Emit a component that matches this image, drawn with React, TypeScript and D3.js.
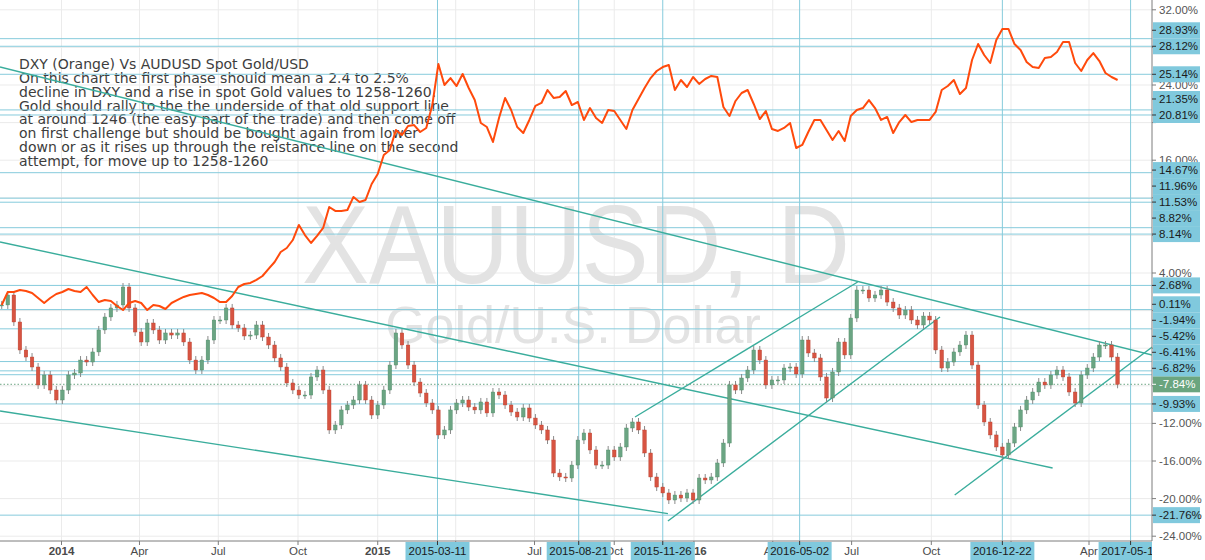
import React from "react";
import * as d3 from "d3";

// ---------- data ----------
const goldStart = "2013-10-24"; // first weekly bar, one bar every 7 days
const goldClose = [
  0.6, 1.66, -1.21, -4.19, -4.94, -6.0, -7.91, -6.85, -8.45, -9.51,
  -8.45, -6.85, -6.64, -5.26, -5.47, -4.4, -2.06, -0.68, 0.28, 0.6,
  2.51, 0.28, -2.28, -3.34, -1.32, -2.06, -3.13, -2.38, -2.6, -2.38,
  -3.34, -5.26, -6.32, -5.26, -3.13, -1.0, -1.0, 0.28, -1.53, -1.85,
  -2.7, -2.6, -1.53, -2.81, -3.66, -5.04, -6.0, -7.7, -8.45, -8.98,
  -8.98, -7.06, -6.32, -8.45, -12.7, -12.17, -10.57, -10.04, -9.51, -7.91,
  -9.51, -11.11, -10.04, -8.45, -5.79, -2.38, -3.66, -5.79, -7.6, -8.77,
  -9.83, -10.57, -13.23, -12.7, -10.57, -9.83, -9.51, -10.26, -10.57, -9.72,
  -10.89, -8.66, -8.98, -10.04, -10.79, -11.32, -10.36, -11.43, -12.17, -12.7,
  -13.77, -17.28, -17.7, -17.81, -16.43, -13.77, -13.02, -14.83, -16.43, -16.43,
  -14.83, -15.57, -14.51, -12.49, -11.85, -12.7, -15.15, -17.7, -18.77, -19.4,
  -20.15, -19.62, -19.94, -19.4, -20.15, -17.81, -18.02, -17.7, -16.21, -14.09,
  -7.91, -8.45, -7.17, -6.32, -4.19, -5.26, -7.91, -7.38, -7.38, -6.11,
  -6.0, -6.74, -3.13, -4.51, -5.04, -7.06, -9.3, -6.53, -3.34, -4.72,
  -0.79, 2.19, 2.19, 1.34, 1.66, 2.19, 0.91, 0.28, -0.47, 0.06,
  -1.0, -1.53, -0.58, -1.0, -4.19, -6.11, -5.47, -4.4, -3.66, -2.6,
  -5.79, -10.04, -11.85, -13.23, -14.51, -15.36, -14.09, -12.38, -10.57, -9.51,
  -8.66, -7.6, -7.91, -6.85, -6.32, -7.06, -8.66, -9.83, -6.85, -6.11,
  -4.94, -3.66, -3.66, -4.94, -7.84,
];
const dxyPct = [
  0.6, 1.98, 1.98, 2.19, 2.09, 1.87, 1.34, 0.81, 1.34, 1.77,
  1.98, 2.3, 2.09, 1.98, 2.51, 1.66, 0.91, 1.13, 1.02, 0.49,
  0.06, 0.81, 1.02, 0.81, 0.06, 0.6, 0.49, 0.17, 0.81, 1.13,
  1.45, 1.66, 1.77, 1.87, 1.66, 1.34, 0.91, 0.91, 1.55, 2.51,
  2.83, 2.94, 3.26, 3.68, 4.43, 5.17, 6.23, 6.66, 7.51, 9.11,
  8.04, 7.19, 7.94, 8.79, 11.02, 10.6, 10.6, 10.7, 12.09, 11.55,
  11.77, 13.47, 14.53, 16.55, 17.09, 19.21, 18.68, 19.64, 19.74, 19.0,
  19.43, 21.87, 26.23, 24.0, 24.74, 23.89, 25.17, 23.68, 22.4, 19.96,
  19.53, 17.94, 20.49, 22.62, 21.34, 19.53, 18.89, 20.28, 21.77, 22.09,
  23.47, 22.62, 22.72, 23.36, 21.87, 22.19, 20.28, 21.55, 20.49, 19.96,
  21.34, 21.23, 20.28, 19.32, 21.34, 22.51, 23.68, 24.74, 25.49, 25.91,
  26.13, 23.47, 24.53, 23.79, 24.85, 24.11, 24.64, 24.96, 24.85, 21.66,
  20.7, 22.3, 23.15, 23.47, 21.98, 20.38, 21.23, 19.32, 19.11, 19.43,
  19.96, 17.3, 17.62, 19.0, 20.28, 20.28, 19.21, 18.15, 19.11, 18.04,
  20.7, 21.34, 21.55, 22.4, 21.55, 20.28, 20.6, 18.89, 20.06, 20.81,
  20.06, 20.28, 20.28, 20.28, 21.13, 23.47, 23.89, 24.53, 23.04, 23.68,
  26.66, 28.36, 27.19, 26.34, 28.79, 29.96, 29.96, 28.36, 27.72, 26.45,
  25.91, 25.81, 26.87, 26.98, 27.51, 28.57, 28.57, 26.34, 25.49, 26.66,
  27.4, 26.55, 25.28, 24.85, 24.53,
];

const levelValues = [28.93, 28.12, 25.14, 21.35, 20.81, 14.67, 11.96, 11.53, 8.82, 8.14, 2.68, 0.11, -1.94, -5.42, -6.41, -6.82, -9.93, -21.76];
const lastValue = -7.84;
const markerDates = ["2015-03-11", "2015-08-21", "2015-11-26", "2016-05-02", "2016-12-22", "2017-05-19"];
const pctTicks = [32, 28, 24, 20, 16, 12, 8, 4, 0, -4, -8, -12, -16, -20, -24];
const monthTickDates = ["2014-01-01", "2014-04-01", "2014-07-01", "2014-10-01", "2015-01-01", "2015-04-01", "2015-07-01", "2015-10-01", "2016-01-01", "2016-04-01", "2016-07-01", "2016-10-01", "2017-01-01", "2017-04-01"];
const monthTickLabels = ["2014", "Apr", "Jul", "Oct", "2015", "Apr", "Jul", "Oct", "2016", "Apr", "Jul", "Oct", "2017", "Apr"];

const trendStartDates = ["2013-10-22", "2013-10-22", "2013-10-22", "2015-10-25", "2015-12-02", "2016-10-28"];
const trendStartPct = [25.91, 7.3, -10.68, -11.32, -22.38, -19.62];
const trendEndDates = ["2017-06-13", "2017-02-18", "2015-12-02", "2016-07-08", "2016-10-11", "2017-06-13"];
const trendEndPct = [-4.72, -16.74, -21.6, 3.04, -0.68, -3.87];

const noteLines = [
  "DXY (Orange) Vs AUDUSD Spot Gold/USD",
  "On this chart the first phase should mean a 2.4 to 2.5%",
  "decline in DXY and a rise in spot Gold values to 1258-1260.",
  "Gold should rally to the the underside of that old support line",
  "at around 1246 (the easy part of the trade) and then come off",
  "on first challenge but should be bought again from lower",
  "down or as it rises up through the reistance line on the second",
  "attempt, for move up to 1258-1260",
];

// ---------- layout ----------
const W = 1205;
const H = 560;
const PW = 1152; // plot right edge
const AXY = 541; // bottom axis line
const FONT = "'Liberation Sans', Arial, sans-serif";
const LINE_BLUE = "#86cbdc";
const TAG_BLUE = "#80c9dd";
const TEAL = "#3aad9c";
const UP = "#6ba583";
const DOWN = "#d75442";

const parse = (s: string) => new Date(s + "T00:00:00Z");

export default function App() {
  const x = d3.scaleUtc().domain([parse("2014-01-01"), parse("2017-04-01")]).range([61.5, 1089]);
  const y = d3.scaleLinear().domain([-24, 32]).range([536.2, 9.8]);

  const start = parse(goldStart);
  const dates = goldClose.map((_, i) => d3.utcDay.offset(start, 7 * i));

  const dxyLine = d3
    .line<number>()
    .x((_, i) => x(dates[i]))
    .y((d) => y(d))(dxyPct) as string;

  // right-side tags, stacked to avoid overlap (bottom-up)
  const allTags = [...levelValues.map((v) => ({ v, last: false })), { v: lastValue, last: true }].sort((a, b) => a.v - b.v);
  let prev = Infinity;
  const tagPos = allTags.map((t) => {
    const yy = Math.min(y(t.v), prev - 16);
    prev = yy;
    return { ...t, yy };
  });

  const fmt = (v: number) => v.toFixed(2) + "%";
  const visiblePct = pctTicks.filter((p) => tagPos.every((t) => Math.abs(t.yy - y(p)) >= 9));
  const markerX = markerDates.map((d) => x(parse(d)));
  const visibleMonths = monthTickDates
    .map((d, i) => ({ d, label: monthTickLabels[i], xx: x(parse(d)) }))
    .filter((m) => markerX.every((mx) => Math.abs(mx - m.xx) >= 22));

  return (
    <div style={{ position: "absolute", left: 0, top: 0 }}>
      <svg width={W} height={H} style={{ display: "block", background: "#fff" }} fontFamily={FONT}>
        <defs>
          <clipPath id="plot">
            <rect x={0} y={0} width={PW} height={AXY} />
          </clipPath>
          <clipPath id="bottom">
            <rect x={0} y={AXY} width={PW} height={H - AXY} />
          </clipPath>
        </defs>

        <g clipPath="url(#plot)">
          {/* grid */}
          {monthTickDates.map((d) => (
            <line key={"gv" + d} x1={x(parse(d))} x2={x(parse(d))} y1={0} y2={AXY} stroke="#ebebeb" />
          ))}
          {pctTicks.map((p) => (
            <line key={"gh" + p} x1={0} x2={PW} y1={y(p)} y2={y(p)} stroke="#ebebeb" />
          ))}

          {/* watermark */}
          <text x={576} y={283} textAnchor="middle" fontSize={112} fill="#e3e3e3" textLength={548} lengthAdjust="spacingAndGlyphs">
            XAUUSD, D
          </text>
          <text x={573} y={343} textAnchor="middle" fontSize={52} fill="#e3e3e3">
            Gold/U.S. Dollar
          </text>

          {/* note */}
          {noteLines.map((t, i) => (
            <text key={"n" + i} x={19} y={69 + i * 13.86} fontSize={14} fill="#3d3d3d" fontFamily="'DejaVu Sans', Verdana, sans-serif">
              {t}
            </text>
          ))}

          {/* horizontal level lines */}
          {levelValues.map((v) => (
            <line key={"lv" + v} x1={0} x2={PW} y1={y(v)} y2={y(v)} stroke={LINE_BLUE} strokeWidth={1} />
          ))}
          {/* vertical date lines */}
          {markerDates.map((d) => (
            <line key={"vl" + d} x1={x(parse(d))} x2={x(parse(d))} y1={0} y2={AXY} stroke={LINE_BLUE} strokeWidth={1} />
          ))}
          {/* current price dotted */}
          <line x1={0} x2={PW} y1={y(lastValue)} y2={y(lastValue)} stroke={UP} strokeDasharray="1.5,2" />

          {/* trend lines */}
          {trendStartDates.map((d, i) => (
            <line
              key={"tl" + i}
              x1={x(parse(d))}
              y1={y(trendStartPct[i])}
              x2={x(parse(trendEndDates[i]))}
              y2={y(trendEndPct[i])}
              stroke={TEAL}
              strokeWidth={1.4}
            />
          ))}

          {/* candles */}
          {goldClose.map((c, i) => {
            const o = i === 0 ? c : goldClose[i - 1];
            const up = c >= o;
            const cx = x(dates[i]);
            const top = y(Math.max(o, c));
            const bot = y(Math.min(o, c));
            return (
              <g key={"c" + i}>
                <line x1={cx} x2={cx} y1={top - 4} y2={bot + 4} stroke="#8a8a8a" strokeWidth={1} />
                <rect x={cx - 1.8} y={top} width={3.6} height={Math.max(1, bot - top)} fill={up ? UP : DOWN} stroke={up ? "#4e8a66" : "#b8412f"} strokeWidth={0.4} />
              </g>
            );
          })}

          {/* DXY comparison line */}
          <path d={dxyLine} fill="none" stroke="#ff4a0c" strokeWidth={2} strokeLinejoin="round" />
        </g>

        {/* axes */}
        <line x1={0} x2={PW} y1={AXY} y2={AXY} stroke="#7d7d7d" />
        <line x1={PW} x2={PW} y1={0} y2={AXY} stroke="#7d7d7d" />

        {/* right percent labels */}
        {pctTicks.map((p) => (
          <line key={"pt" + p} x1={PW} x2={PW + 4} y1={y(p)} y2={y(p)} stroke="#7d7d7d" />
        ))}
        {visiblePct.map((p) => (
          <text key={"pl" + p} x={PW + 7} y={y(p) + 4} fontSize={11.5} fill="#555">
            {fmt(p)}
          </text>
        ))}

        {/* right tags */}
        {tagPos.map((t) => (
          <g key={"tg" + t.v}>
            <rect x={PW + 1} y={t.yy - 8} width={47} height={16} fill={t.last ? "#6aa57f" : TAG_BLUE} />
            <line x1={PW} x2={PW + 4} y1={t.yy} y2={t.yy} stroke={t.last ? "#fff" : "#333"} />
            <text x={PW + 7} y={t.yy + 4} fontSize={11.5} fill={t.last ? "#fff" : "#1a1a1a"}>
              {fmt(t.v)}
            </text>
          </g>
        ))}

        {/* bottom labels */}
        <g clipPath="url(#bottom)">
          {monthTickDates.map((d) => (
            <line key={"bk" + d} x1={x(parse(d))} x2={x(parse(d))} y1={AXY} y2={AXY + 4} stroke="#7d7d7d" />
          ))}
          {visibleMonths.map((m) => (
            <text
              key={"bl" + m.d}
              x={m.xx}
              y={555}
              textAnchor="middle"
              fontSize={11.5}
              fill="#4a4a4a"
              fontWeight={/^\d{4}$/.test(m.label) ? "bold" : "normal"}
            >
              {m.label}
            </text>
          ))}
          {markerDates.map((d, i) => {
            const cx = markerX[i];
            return (
              <g key={"bt" + d}>
                <rect x={cx - 32} y={AXY + 1} width={64} height={H - AXY - 1} fill={TAG_BLUE} />
                <line x1={cx} x2={cx} y1={AXY} y2={AXY + 4} stroke="#333" />
                <text x={cx} y={555} textAnchor="middle" fontSize={11.5} fill="#1a1a1a">
                  {d}
                </text>
              </g>
            );
          })}
        </g>
      </svg>
    </div>
  );
}
